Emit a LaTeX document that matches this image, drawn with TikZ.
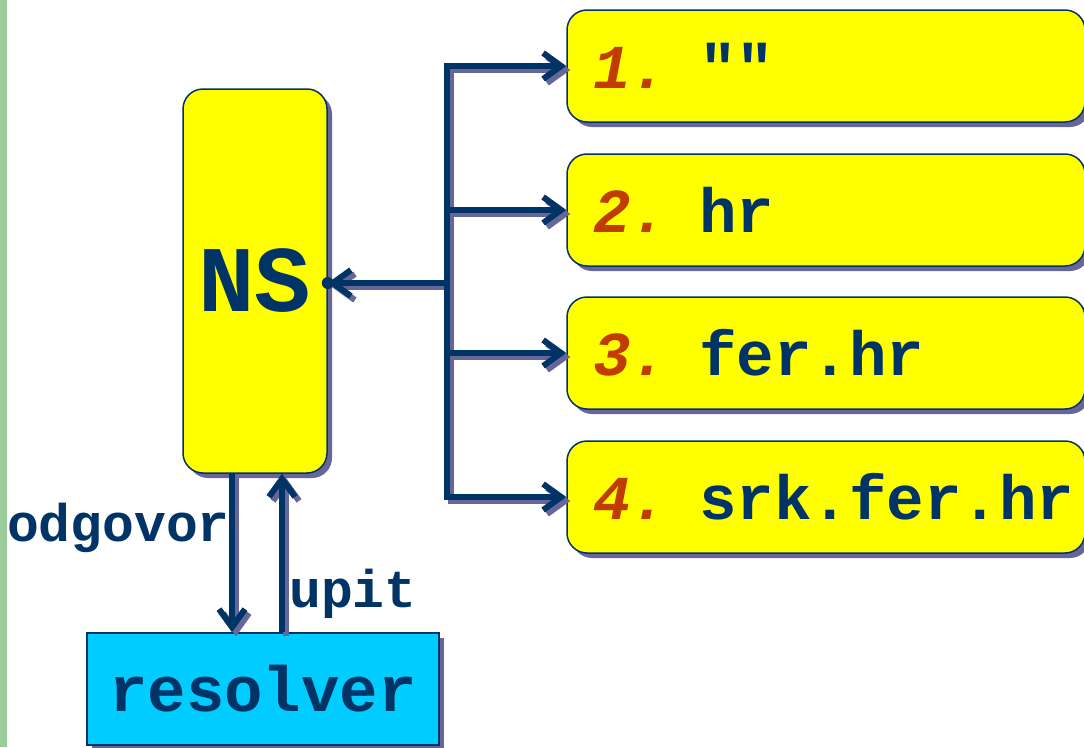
\documentclass[tikz,border=0pt]{standalone}
\usepackage{fontspec}
\setmonofont{Liberation Mono}
\usetikzlibrary{arrows.meta,shadows}
\definecolor{navy}{HTML}{003366}
\definecolor{shad}{HTML}{666699}
\definecolor{ylw}{HTML}{FFFF00}
\definecolor{cyn}{HTML}{00CCFF}
\definecolor{numc}{HTML}{C03C00}
\definecolor{strip}{HTML}{99CC99}
\newcommand\nm[1]{{\color{numc}\itshape #1}}
\newcommand\allconns[1]{%
  \draw[conn,#1] (j) |- (b1.west);
  \draw[conn,#1] (j) |- (b2.west);
  \draw[conn,#1] (j) |- (b3.west);
  \draw[conn,#1] (j) |- (b4.west);
  \draw[conn,#1] (j) -- (j -| NS.east);
  \draw[conn,#1] (NS.south -| od) -- (res.north -| od);
  \draw[conn,#1] (res.north -| up) -- (NS.south -| up);
}
\begin{document}
\begin{tikzpicture}[x=1pt,y=-1pt,
  conn/.style={line width=6pt, draw=navy, line join=miter,
    -{Straight Barb[length=18pt,width=26pt]}},
  boxsh/.style={drop shadow={shadow xshift=5pt, shadow yshift=-5pt, fill=shad, opacity=1}},
  ybox/.style={draw=navy, line width=1.5pt, fill=ylw, rounded corners=20pt, boxsh},
  rbox/.style={ybox, minimum width=518pt, minimum height=112pt, text width=466pt,
    inner xsep=26pt, align=left, text=navy,
    font=\ttfamily\bfseries\fontsize{62.5}{62.5}\selectfont},
  lbl/.style={inner sep=0pt, anchor=base west, text=navy,
    font=\ttfamily\bfseries\fontsize{53}{53}\selectfont}
]
\useasboundingbox (0,0) rectangle (1084,747);
\fill[strip] (0,0) rectangle (7,747);

\node[ybox, minimum width=144pt, minimum height=384pt, text=navy,
  font=\ttfamily\bfseries\fontsize{94}{94}\selectfont] (NS) at (255,281) {NS};

\node[rbox] (b1) at (826,66)  {\mbox{\nm{1.} ""}};
\node[rbox] (b2) at (826,210) {\mbox{\nm{2.} hr}};
\node[rbox] (b3) at (826,353) {\mbox{\nm{3.} fer.hr}};
\node[rbox] (b4) at (826,497) {\mbox{\nm{4.} srk.fer.hr}};

\node[draw=navy, line width=1.5pt, fill=cyn, boxsh, minimum width=352pt,
  minimum height=112pt, text=navy,
  font=\ttfamily\bfseries\fontsize{64}{64}\selectfont] (res) at (263,689) {resolver};

\node[lbl] (lod) at (7,541) {odgovor};
\node[lbl] (lup) at (289,607) {upit};

\coordinate (j) at (447,283);
\coordinate (od) at (232,0);
\coordinate (up) at (282,0);

\begin{scope}[transform canvas={xshift=4pt,yshift=-4pt}]
  \allconns{draw=shad}
\end{scope}
\allconns{}
\fill[navy] (j -| NS.east) circle (6pt);
\end{tikzpicture}
\end{document}
